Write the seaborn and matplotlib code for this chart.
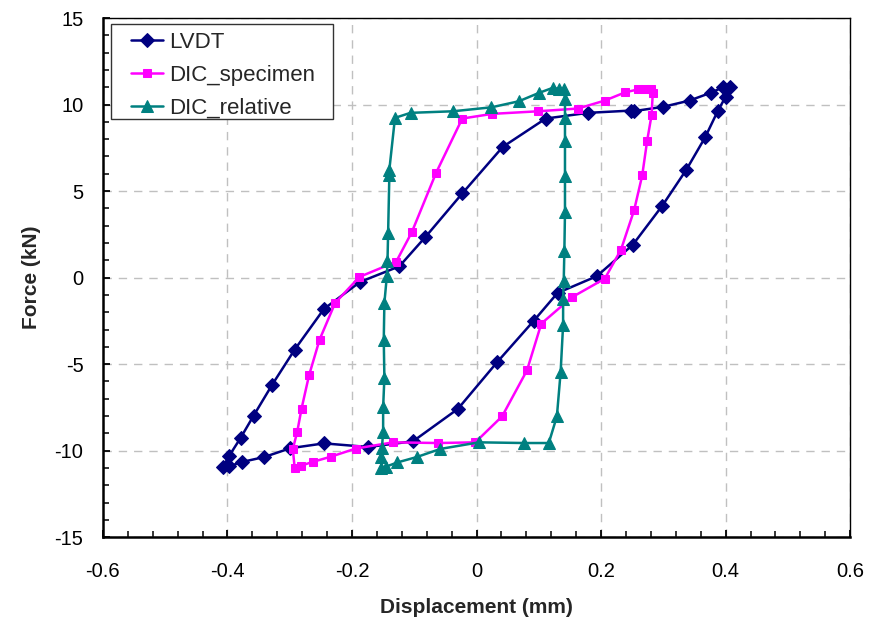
import numpy as np
import pandas as pd
import seaborn as sns
import matplotlib.pyplot as plt
from matplotlib.ticker import MultipleLocator
from matplotlib.patches import Rectangle

# Values (displacement in mm, force in kN)
lvdt_x = [0.407, 0.400, 0.387, 0.367, 0.337, 0.298, 0.251, 0.193, 0.130, 0.092, 0.033, -0.030,
          -0.102, -0.174, -0.245, -0.299, -0.341, -0.376, -0.397, -0.407, -0.397, -0.379,
          -0.358, -0.328, -0.292, -0.245, -0.187, -0.124, -0.082, -0.023, 0.042, 0.111,
          0.179, 0.248, 0.253, 0.300, 0.342, 0.376, 0.396]
lvdt_y = [11.0, 10.45, 9.6, 8.1, 6.24, 4.14, 1.9, 0.08, -0.89, -2.49, -4.89, -7.59,
          -9.46, -9.79, -9.58, -9.86, -10.37, -10.65, -10.9, -10.92, -10.29, -9.27,
          -7.98, -6.18, -4.16, -1.81, -0.25, 0.65, 2.35, 4.86, 7.55, 9.19,
          9.52, 9.65, 9.62, 9.87, 10.23, 10.68, 11.0]

spec_x = [0.280, 0.283, 0.281, 0.274, 0.266, 0.253, 0.232, 0.206, 0.153, 0.104, 0.081, 0.041,
          -0.002, -0.062, -0.134, -0.194, -0.234, -0.263, -0.282, -0.292, -0.295, -0.288,
          -0.281, -0.269, -0.252, -0.227, -0.188, -0.129, -0.104, -0.065, -0.023, 0.025,
          0.099, 0.163, 0.206, 0.239, 0.259, 0.270]
spec_y = [10.87, 10.68, 9.38, 7.92, 5.9, 3.89, 1.62, -0.06, -1.14, -2.66, -5.36, -8.02,
          -9.52, -9.56, -9.52, -9.88, -10.35, -10.65, -10.87, -11.02, -9.9, -8.92,
          -7.57, -5.65, -3.58, -1.46, 0.04, 0.92, 2.62, 6.05, 9.19, 9.46,
          9.61, 9.77, 10.23, 10.71, 10.87, 10.87]

rel_x = [0.141, 0.142, 0.142, 0.142, 0.142, 0.142, 0.141, 0.140, 0.139, 0.139, 0.135, 0.129,
         0.116, 0.076, 0.004, -0.058, -0.096, -0.127, -0.145, -0.153, -0.153, -0.152,
         -0.150, -0.150, -0.148, -0.149, -0.148, -0.144, -0.143, -0.142, -0.140, -0.140,
         -0.131, -0.106, -0.038, 0.024, 0.068, 0.100, 0.122, 0.133]
rel_y = [10.87, 10.33, 9.23, 7.88, 5.86, 3.77, 1.52, -0.17, -1.23, -2.72, -5.47, -8.02,
         -9.56, -9.56, -9.52, -9.9, -10.37, -10.68, -10.92, -11.0, -10.39, -9.84,
         -8.95, -7.5, -5.8, -3.58, -1.46, 0.1, 0.94, 2.58, 5.95, 6.24,
         9.23, 9.52, 9.61, 9.84, 10.19, 10.67, 10.96, 10.9]

series = [
    ("LVDT", lvdt_x, lvdt_y, "#000080", "D", 7.5),
    ("DIC_specimen", spec_x, spec_y, "#FF00FF", "s", 6),
    ("DIC_relative", rel_x, rel_y, "#008080", "^", 8),
]

sns.set_style("white")
plt.rcParams['font.family'] = ['Liberation Sans', 'DejaVu Sans']

fig = plt.figure(figsize=(8.72, 6.21), dpi=100)
ax = fig.add_axes([0.118, 0.135, 0.857, 0.836])

for name, xs, ys, color, marker, ms in series:
    df = pd.DataFrame({"x": xs, "y": ys})
    sns.lineplot(data=df, x="x", y="y", sort=False, estimator=None, ax=ax,
                 color=color, linewidth=1.8, marker=marker, markersize=ms,
                 markeredgecolor=color, label=name)

ax.set_xlim(-0.6, 0.6)
ax.set_ylim(-15, 15)
ax.xaxis.set_minor_locator(MultipleLocator(0.04))
ax.yaxis.set_minor_locator(MultipleLocator(1))
ax.set_xticks(np.arange(-0.6, 0.61, 0.2))
ax.set_xticklabels(["-0.6", "-0.4", "-0.2", "0", "0.2", "0.4", "0.6"])
ax.set_yticks(np.arange(-15, 16, 5))
ax.set_yticklabels(["-15", "-10", "-5", "0", "5", "10", "15"])
ax.tick_params(which="major", direction="in", length=5, width=1.3, labelsize=14.5,
               colors="black")
ax.tick_params(axis="x", which="major", pad=18)
ax.tick_params(axis="y", which="major", pad=14)
ax.tick_params(which="minor", direction="in", length=4, width=1.3)
ax.tick_params(axis="x", which="both", bottom=True, top=False)
ax.tick_params(axis="y", which="both", left=True, right=False)

ax.grid(True, which="major", linestyle=(0, (6, 5)), color="#c0c0c0", linewidth=1)
for side in ["left", "bottom"]:
    ax.spines[side].set_color("black")
    ax.spines[side].set_linewidth(1.8)
for side in ["top", "right"]:
    ax.spines[side].set_color("black")
    ax.spines[side].set_linewidth(1.0)

ax.set_xlabel("Displacement (mm)", fontsize=15, fontweight="bold", labelpad=12)
ax.set_ylabel("Force (kN)", fontsize=15, fontweight="bold", labelpad=10)

# legend box drawn separately so the padding can be wider than it is tall
ax.add_patch(Rectangle((0.0107, 0.8054), 0.2973, 0.183, transform=ax.transAxes,
                       facecolor="white", edgecolor="#333333", linewidth=1.0, zorder=4))
leg = ax.legend(loc="upper left", bbox_to_anchor=(0.0375, 0.9735), fontsize=16,
                frameon=False, borderpad=0, borderaxespad=0, labelspacing=0.53,
                handlelength=1.45, handletextpad=0.25)
leg.set_zorder(5)

fig.savefig("out.png", dpi=100)
